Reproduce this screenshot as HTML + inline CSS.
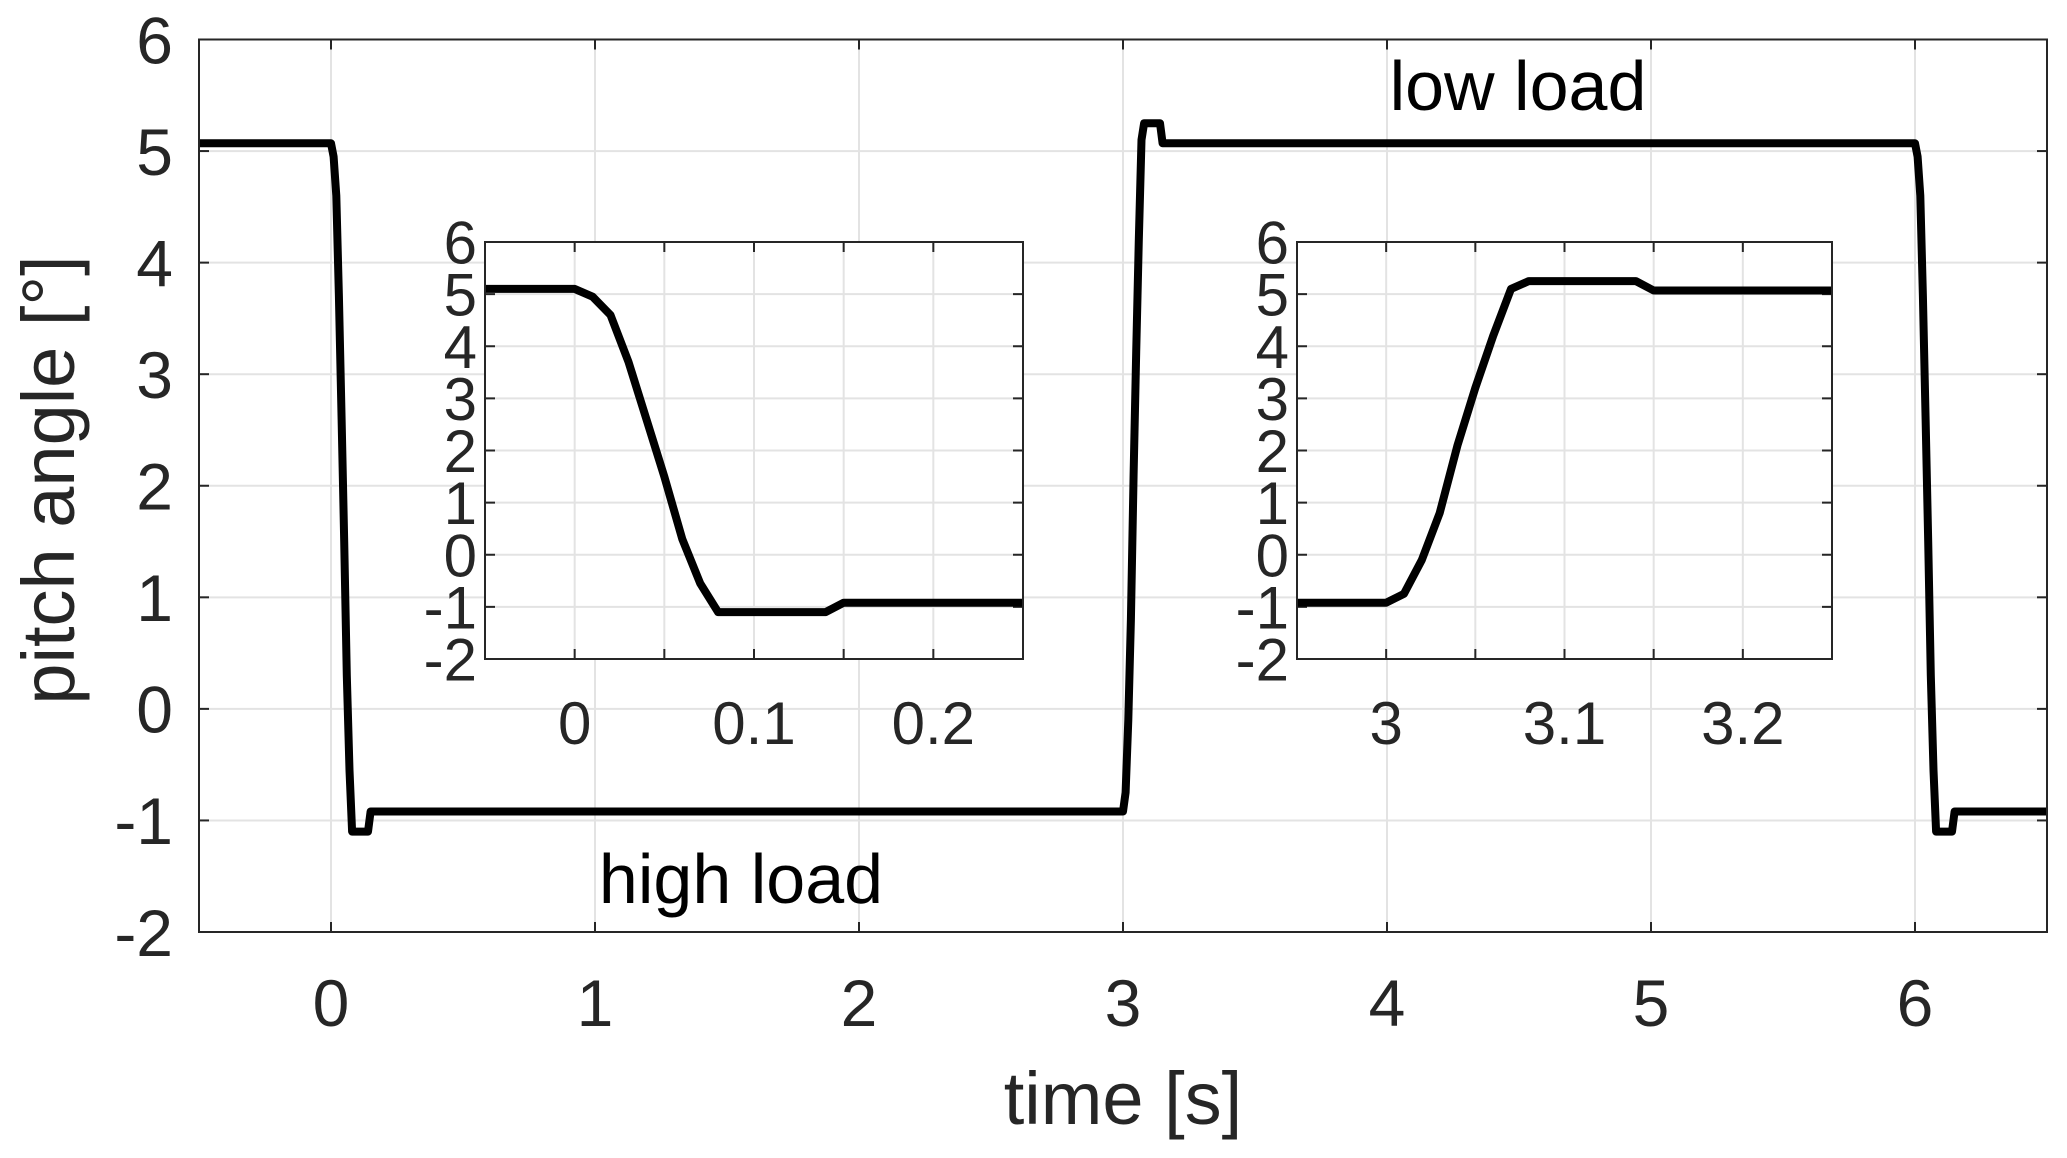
<!DOCTYPE html>
<html><head><meta charset="utf-8"><style>
html,body{margin:0;padding:0;background:#fff;}
svg{display:block;font-family:"Liberation Sans",Arial,sans-serif;}
</style></head><body>
<svg id="chart" width="2067" height="1158" viewBox="0 0 2067 1158" xmlns="http://www.w3.org/2000/svg"></svg>
<script>
// ---- data ----
const mainXTicks = [0,1,2,3,4,5,6];
const mainYTicks = [-2,-1,0,1,2,3,4,5,6];
const mainT = [-0.5,0,0.01,0.02,0.03,0.04,0.05,0.06,0.07,0.08,0.14,0.15,3.0,3.01,3.02,3.03,3.04,3.05,3.06,3.07,3.08,3.14,3.15,6.0,6.01,6.02,6.03,6.04,6.05,6.06,6.07,6.08,6.14,6.15,6.5];
const mainV = [5.07,5.07,4.95,4.6,3.7,2.6,1.5,0.3,-0.55,-1.1,-1.1,-0.92,-0.92,-0.75,-0.1,0.8,2.1,3.2,4.2,5.1,5.25,5.25,5.07,5.07,4.95,4.6,3.7,2.6,1.5,0.3,-0.55,-1.1,-1.1,-0.92,-0.92];
const inset1T = [-0.05,0,0.01,0.02,0.03,0.04,0.05,0.06,0.07,0.08,0.14,0.15,0.25];
const inset1V = [5.1,5.1,4.95,4.6,3.7,2.6,1.5,0.3,-0.55,-1.1,-1.1,-0.92,-0.92];
const inset1XTicks = [0,0.1,0.2];
const inset1XLabels = ["0","0.1","0.2"];
const inset2T = [2.95,3.0,3.01,3.02,3.03,3.04,3.05,3.06,3.07,3.08,3.14,3.15,3.25];
const inset2V = [-0.92,-0.92,-0.75,-0.1,0.8,2.1,3.2,4.2,5.1,5.25,5.25,5.07,5.07];
const inset2XTicks = [3,3.1,3.2];
const inset2XLabels = ["3","3.1","3.2"];
const insetYTicks = [-2,-1,0,1,2,3,4,5,6];

const svg = document.getElementById('chart');
const NS = 'http://www.w3.org/2000/svg';
function mk(tag, attrs, parent){const e=document.createElementNS(NS,tag);for(const k in attrs)e.setAttribute(k,attrs[k]);(parent||svg).appendChild(e);return e;}

function drawAxes(opt){
  const {L,R,T,B,x0,x1,y0,y1,xt,xl,yt,fs,name,lw,xlabOff,ylabOff,gridAll} = opt;
  const sx = v => L + (v-x0)/(x1-x0)*(R-L);
  const sy = v => B - (v-y0)/(y1-y0)*(B-T);
  const g = mk('g',{});
  
  
  mk('rect',{x:L,y:T,width:R-L,height:B-T,fill:'#fff'},g);
  const gx = xt.slice(); if(gridAll) gridAll.forEach(v=>{ if(!gx.includes(v)) gx.push(v); });
  gx.forEach(v=>{ const l=mk('line',{x1:sx(v),x2:sx(v),y1:T,y2:B,stroke:'#e3e3e3','stroke-width':2},g);
     });
  yt.forEach(v=>{ const l=mk('line',{x1:L,x2:R,y1:sy(v),y2:sy(v),stroke:'#e3e3e3','stroke-width':2},g);
     });
  const tl=10;
  gx.forEach(v=>{ mk('line',{x1:sx(v),x2:sx(v),y1:B,y2:B-tl,stroke:'#262626','stroke-width':2},g); mk('line',{x1:sx(v),x2:sx(v),y1:T,y2:T+tl,stroke:'#262626','stroke-width':2},g);});
  yt.forEach(v=>{ mk('line',{x1:L,x2:L+tl,y1:sy(v),y2:sy(v),stroke:'#262626','stroke-width':2},g); mk('line',{x1:R,x2:R-tl,y1:sy(v),y2:sy(v),stroke:'#262626','stroke-width':2},g);});
  xt.forEach((v,i)=>{ const t=mk('text',{x:sx(v),y:B+xlabOff,'text-anchor':'middle','font-size':fs,fill:'#262626'},g); t.textContent=xl[i];
     });
  yt.forEach(v=>{ const t=mk('text',{x:L-ylabOff,y:sy(v)+fs*0.36,'text-anchor':'end','font-size':fs,fill:'#262626'},g); t.textContent=String(v);
     });
  const d = opt.T_.map((t,i)=>(i?'L':'M')+sx(t).toFixed(1)+' '+sy(opt.V_[i]).toFixed(1)).join(' ');
  const cp = 'clip-'+name;
  const c = mk('clipPath',{id:cp},g); mk('rect',{x:L,y:T-10,width:R-L,height:B-T+20},c);
  const p = mk('path',{d:d,fill:'none',stroke:'#000','stroke-width':lw,'stroke-linejoin':'round','clip-path':'url(#'+cp+')'},g);
   
  mk('rect',{x:L,y:T,width:R-L,height:B-T,fill:'none',stroke:'#262626','stroke-width':2},g);
  return {sx,sy};
}

drawAxes({L:199,R:2047,T:39.5,B:932,x0:-0.5,x1:6.5,y0:-2,y1:6,xt:mainXTicks,xl:mainXTicks.map(String),yt:mainYTicks,
  fs:66,name:'main-plot',lw:8,xlabOff:94,ylabOff:26,T_:mainT,V_:mainV});

drawAxes({L:485,R:1023,T:242,B:659,x0:-0.05,x1:0.25,y0:-2,y1:6,xt:inset1XTicks,xl:inset1XLabels,yt:insetYTicks,gridAll:[0.05,0.15],
  fs:60,name:'inset-high-load',lw:8,xlabOff:85,ylabOff:8,T_:inset1T,V_:inset1V});
drawAxes({L:1297,R:1832,T:242,B:659,x0:2.95,x1:3.25,y0:-2,y1:6,xt:inset2XTicks,xl:inset2XLabels,yt:insetYTicks,gridAll:[3.05,3.15],
  fs:60,name:'inset-low-load',lw:8,xlabOff:85,ylabOff:8,T_:inset2T,V_:inset2V});

let t;
t=mk('text',{x:1518,y:110,'text-anchor':'middle','font-size':70,fill:'#000'}); t.textContent='low load';
 
t=mk('text',{x:741,y:903,'text-anchor':'middle','font-size':70,fill:'#000'}); t.textContent='high load';
 
t=mk('text',{x:1123,y:1124,'text-anchor':'middle','font-size':74,fill:'#262626'}); t.textContent='time [s]';
 
t=mk('text',{x:0,y:0,'text-anchor':'middle','font-size':74,fill:'#262626',transform:'translate(74,480) rotate(-90)'}); t.textContent='pitch angle [°]';
 
</script>
</body></html>
